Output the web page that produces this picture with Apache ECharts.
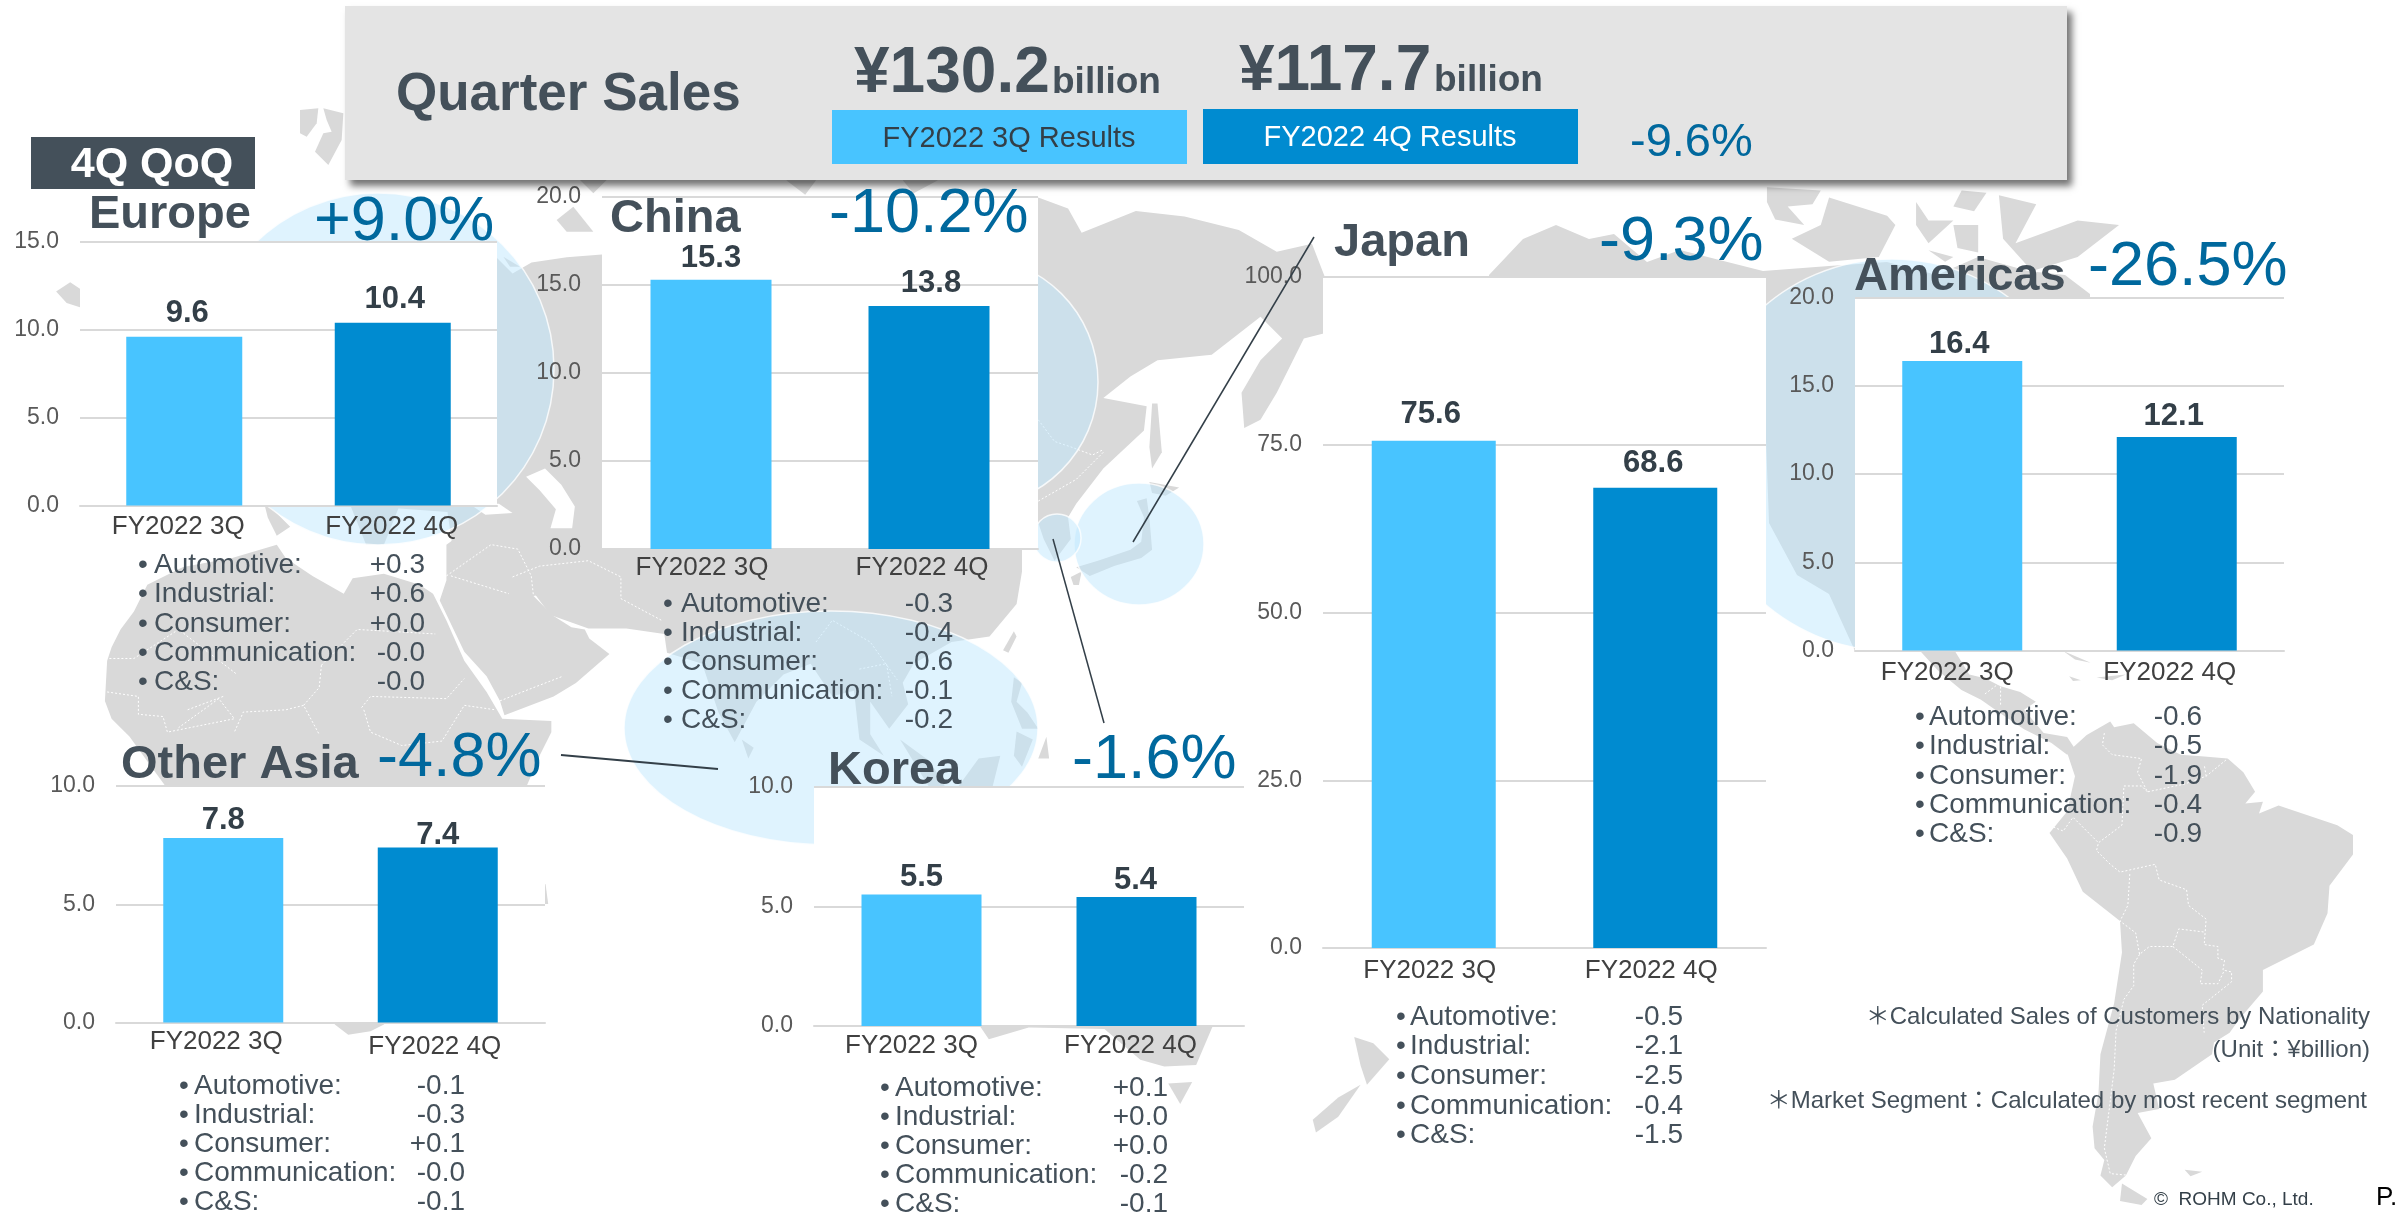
<!DOCTYPE html>
<html>
<head>
<meta charset="utf-8">
<title>Quarter Sales</title>
<script src="https://cdn.jsdelivr.net/npm/echarts@6/dist/echarts.min.js"></script>
<style>
html, body { margin: 0; padding: 0; background: #fff; }
#main { width: 2399px; height: 1214px; }
</style>
</head>
<body>
<div id="main"></div>
<script>
// chart data
var categories = ['FY2022 3Q', 'FY2022 4Q'];
var europeSales = [9.6, 10.4];
var chinaSales = [15.3, 13.8];
var japanSales = [75.6, 68.6];
var americasSales = [16.4, 12.1];
var otherAsiaSales = [7.8, 7.4];
var koreaSales = [5.5, 5.4];

var segmentNames = ['Automotive:', 'Industrial:', 'Consumer:', 'Communication:', 'C&S:'];
var europeSegments = ['+0.3', '+0.6', '+0.0', '-0.0', '-0.0'];
var chinaSegments = ['-0.3', '-0.4', '-0.6', '-0.1', '-0.2'];
var japanSegments = ['-0.5', '-2.1', '-2.5', '-0.4', '-1.5'];
var americasSegments = ['-0.6', '-0.5', '-1.9', '-0.4', '-0.9'];
var otherAsiaSegments = ['-0.1', '-0.3', '+0.1', '-0.0', '-0.1'];
var koreaSegments = ['+0.1', '+0.0', '+0.0', '-0.2', '-0.1'];

var LIGHT = '#48c4ff', DARK = '#008bd0', SLATE = '#44505a', PCT = '#00689d';
var FONT = '"Liberation Sans", Arial, "Noto Sans CJK JP", sans-serif';

// one entry per small chart: grid box, axis and where its texts go
var panels = [
  {name: 'Europe', pct: '+9.0%', sales: europeSales, seg: europeSegments, max: 15, step: 5,
    box: [80, 242, 417, 263.5], bar: 116, gaps: [8, 8], nudge: [3, 2], shift: [6, 1], margin: 8,
    title: [89, 215], pctAt: [314, 223], list: [138, 154, 425, 565, 29.4]},
  {name: 'China', pct: '-10.2%', sales: chinaSales, seg: chinaSegments, max: 20, step: 5,
    box: [602, 197, 436, 352], bar: 121, gaps: [6, 7], nudge: [0, 2], shift: [9, 7], margin: 6,
    title: [610, 219], pctAt: [829, 215], list: [663, 681, 953, 604, 29.1]},
  {name: 'Japan', pct: '-9.3%', sales: japanSales, seg: japanSegments, max: 100, step: 25,
    box: [1323, 277, 443, 671], bar: 124, gaps: [11, 9], nudge: [-3, -2], shift: [4, 4], margin: 10,
    title: [1334, 243], pctAt: [1599, 243], list: [1396, 1410, 1683, 1017, 29.6]},
  {name: 'Americas', pct: '-26.5%', sales: americasSales, seg: americasSegments, max: 20, step: 5,
    box: [1855, 297.5, 429, 353], bar: 120, gaps: [1, 5], nudge: [-3, -3], shift: [15, 7], margin: 9,
    title: [1854, 277], pctAt: [2088, 268], list: [1915, 1929, 2202, 717, 29.4]},
  {name: 'Other Asia', pct: '-4.8%', sales: otherAsiaSales, seg: otherAsiaSegments, max: 10, step: 5,
    box: [116, 786, 429, 236.5], bar: 120, gaps: [2, -3], nudge: [0, 0], shift: [7, 3], margin: 6, drop: 5,
    title: [121, 765], pctAt: [377, 759], list: [179, 194, 465, 1086, 29]},
  {name: 'Korea', pct: '-1.6%', sales: koreaSales, seg: koreaSegments, max: 10, step: 5,
    box: [814, 787, 430, 239], bar: 120, gaps: [2, 1], nudge: [0, -1], shift: [10, 6], margin: 7,
    title: [828, 771], pctAt: [1072, 761], list: [880, 895, 1168, 1088, 29]}
];

// background world map, traced by hand from crops of the slide
function traced(x, y, fx, fy, shapes) {
  return shapes.map(function (s) {
    return s.map(function (p) { return [x + p[0] / fx, y + p[1] / (fy || fx)]; });
  });
}
var landShapes = [].concat(
  traced(0, 500, 2.24, 0, [
    // africa
    [[250,330],[270,290],[300,250],[330,190],[410,150],[520,130],[620,100],[640,130],[700,170],[770,210],[790,175],[860,165],[940,190],[970,210],[1000,270],[1040,360],[1090,430],[1125,490],[1235,495],[1235,520],[1210,570],[1180,640],[1100,900],[860,1175],[830,1190],[780,1198],[750,1175],[650,800],[600,640],[370,640],[330,585],[290,530],[250,490],[235,450],[240,360]],
    // middle east
    [[1000,100],[1110,20],[1300,60],[1400,170],[1195,215],[1240,260],[1280,285],[1310,290],[1320,310],[1365,345],[1290,410],[1240,440],[1130,482],[1120,450],[1090,395],[1040,340],[985,225],[1000,180]],
    [[1222,860],[1228,905],[1150,905]],
    // italy and balkans poking out under the europe panel
    [[590,0],[650,60],[620,80],[600,40]],
    [[780,0],[900,0],[860,100],[820,100],[800,50]],
    [[1120,0],[1400,0],[1400,100],[1200,100],[1130,40]]
  ]),
  traced(480, 100, 1.845, 0, [
    // eurasia
    [[-200,300],[30,290],[60,320],[95,300],[160,290],[225,285],[300,300],[1000,300],[1030,180],[1085,200],[1110,245],[1210,205],[1300,215],[1400,240],[1470,280],[1535,265],[1560,330],[1560,430],[1520,440],[1500,480],[1470,540],[1440,590],[1410,605],[1405,540],[1440,480],[1480,440],[1440,400],[1350,470],[1250,480],[1200,510],[1150,550],[1230,565],[1225,610],[1150,680],[1100,745],[1085,770],[1090,810],[1060,850],[1040,810],[1030,780],[1000,800],[1000,870],[990,930],[940,990],[870,1000],[800,1040],[780,1075],[790,1115],[755,1160],[720,1110],[720,1170],[745,1210],[700,1180],[690,1090],[650,1100],[610,1040],[560,1060],[510,1110],[470,1185],[440,1130],[410,1040],[345,1020],[340,985],[270,975],[200,975],[130,950],[100,910],[60,870],[20,840],[-10,830],[-50,830],[-60,760],[-200,750]],
    [[565,148],[620,148],[600,175]],
    [[780,148],[845,148],[800,172]],
    [[1240,560],[1250,560],[1258,650],[1240,680],[1235,640]],
    [[1100,862],[1140,850],[1200,830],[1220,815],[1225,770],[1212,740],[1230,735],[1235,770],[1240,830],[1220,845],[1170,860],[1125,878]],
    [[1235,705],[1290,715],[1265,730],[1240,725]],
    [[1090,880],[1110,870],[1105,895],[1095,895]],
    [[965,1015],[985,980],[990,990],[975,1020]],
    [[985,1065],[1000,1075],[990,1110],[1010,1130],[1030,1160],[1000,1160],[980,1110]],
    [[880,1270],[920,1215],[960,1210],[945,1270]],
    [[775,1180],[830,1220],[860,1270],[830,1270]],
    [[990,1165],[1020,1180],[1000,1230],[985,1210]],
    [[1030,1215],[1045,1175],[1050,1215]],
    [[483,1180],[505,1195],[495,1215]]
  ]),
  traced(300, 90, 3, 0, [
    [[0,60],[55,55],[50,100],[20,140],[0,130]],
    [[70,55],[130,70],[125,150],[85,225],[45,185],[70,130],[95,125],[80,90]],
    [[770,390],[820,350],[880,425],[800,425]],
    [[840,270],[920,270],[880,310]],
    [[610,500],[660,530],[630,530]]
  ]),
  traced(0, 0, 1.425, 2.178, [
    [[80,635],[100,615],[115,630],[115,670],[95,660]]
  ]),
  traced(1100, 0, 1.207, 2.178, [
    // canadian islands
    [[805,408],[870,415],[860,445],[830,450],[850,490],[815,478],[805,440]],
    [[880,430],[950,470],[960,490],[940,560],[880,570],[835,520],[870,490]],
    [[985,440],[1000,480],[1030,480],[1000,530],[985,490]],
    [[1040,415],[1070,420],[1055,460],[1030,450]],
    [[1030,490],[1060,490],[1060,550],[1035,540]],
    [[1085,425],[1130,445],[1105,530],[1180,480],[1230,490],[1180,560],[1125,590],[1090,520]],
    [[1000,545],[1030,560],[1020,570]]
  ]),
  [
    // north america, mostly hidden by the panels
    [[1489,275],[1506,257],[1523,239],[1556,225],[1589,239],[1614,234],[1647,262],[1680,250],[1763,271],[1829,266],[1887,262],[1937,275],[1978,257],[2028,271],[2065,275],[2090,294],[2090,400],[1950,640],[1855,651],[1829,594],[1797,575],[1769,523],[1766,441],[1600,300],[1489,300]]
  ],
  traced(1750, 600, 2.554, 0, [
    // mexico and central america
    [[430,125],[520,125],[560,190],[600,200],[640,220],[690,235],[730,260],[700,280],[750,340],[810,350],[830,380],[810,395],[770,365],[700,330],[640,290],[590,255],[540,230],[480,180]],
    [[800,130],[870,160],[830,152]],
    [[885,198],[960,190],[925,205]],
    [[815,195],[845,205],[825,207]],
    // south america
    [[810,390],[860,345],[920,310],[930,325],[980,315],[1040,365],[1100,395],[1160,400],[1220,405],[1260,440],[1290,490],[1265,520],[1310,515],[1300,545],[1350,525],[1500,575],[1540,600],[1540,650],[1480,730],[1475,800],[1440,880],[1310,945],[1310,1000],[1250,1070],[1225,1105],[1185,1130],[1180,1160],[1085,1225],[1030,1235],[1045,1300],[990,1310],[1025,1375],[985,1420],[960,1470],[925,1500],[895,1470],[905,1430],[880,1400],[875,1345],[890,1260],[895,1160],[930,1030],[950,900],[945,820],[850,745],[810,660],[765,595],[810,540],[830,450]],
    [[950,1490],[1015,1530],[1000,1545],[945,1535]],
    [[1110,1455],[1155,1460],[1125,1472]]
  ]),
  traced(1300, 160, 1.568, 0, [
    // new zealand
    [[85,1375],[115,1385],[140,1410],[105,1450],[95,1420]],
    [[95,1450],[60,1500],[25,1525],[20,1505],[60,1470]]
  ]),
  traced(0, 680, 1.254, 2.936, [
    // australia, only the rim shows under the korea panel
    [[1180,900],[1560,900],[1520,1020],[1500,1130],[1460,1135],[1430,1115],[1385,1025],[1290,1020],[1240,1055],[1230,1020]],
    [[1465,1185],[1495,1180],[1480,1245]]
  ])
);
var borderLines = [].concat(
  traced(1750, 600, 2.554, 0, [
    [[905,340],[900,370],[925,395],[1000,405],[990,440],[1015,490],[1110,470],[1165,450],[1220,405]],
    [[1165,450],[1160,420]],
    [[1015,490],[1000,475],[955,475],[950,575],[890,620],[885,640],[920,675],[945,695],[1035,675],[1045,715],[1115,740],[1120,780],[1165,815],[1160,880],[1195,885],[1195,915],[1212,920],[1208,945],[1230,950],[1230,975],[1155,1035],[1160,1105]],
    [[970,700],[965,780],[945,820],[985,850],[995,905],[1020,885],[1080,885],[1095,840],[1160,848]],
    [[995,905],[980,930],[980,985],[955,1020],[935,1100],[930,1200],[905,1400],[920,1465],[975,1470]],
    [[1080,885],[1155,945],[1150,980],[1195,980],[1212,945]],
    [[775,580],[800,590],[825,555],[890,620]],
    [[600,240],[640,210],[640,270]]
  ]),
  traced(0, 500, 2.24, 0, [
    [[240,430],[310,440],[310,480],[365,485],[375,520],[450,505],[525,490],[490,445],[400,510]],
    [[245,355],[300,355],[400,290],[530,390]],
    [[500,440],[420,470]],
    [[680,460],[640,470],[545,475],[525,520]],
    [[720,370],[715,420],[680,460],[715,525]],
    [[810,465],[830,440],[1000,445],[1040,400]],
    [[815,470],[830,520],[900,550],[990,540],[1040,460],[1110,470]],
    [[720,370],[800,290],[975,300]],
    [[1120,450],[1170,430],[1260,395]],
    [[1000,170],[1100,100],[1160,110],[1190,170],[1195,215]],
    [[1010,170],[1140,210]]
  ]),
  traced(480, 100, 1.845, 0, [
    [[60,880],[110,860],[200,850],[260,880],[260,920],[335,960]],
    [[1030,590],[1060,630],[1090,640],[1130,655],[1150,645]],
    [[1030,740],[1100,700],[1150,650]],
    [[620,1000],[650,960],[720,1000],[770,1070]],
    [[700,1050],[750,1040],[760,1100]]
  ])
);

// pale highlight circles over the map: cx, cy, rx, ry
var circles = [
  [378, 369, 176, 176],
  [973, 382, 125, 125],
  [1139, 544, 65, 61],
  [1057, 538, 24, 24],
  [831, 728, 207, 117],
  [1892, 455, 196, 196]
];

var grids = [], xAxes = [], yAxes = [], series = [];
var extras = [];

function addText(text, x, y, size, color, weight, align) {
  extras.push({
    type: 'text', z: 20, silent: true,
    style: {
      text: text, x: x, y: y, fill: color, align: align || 'left', verticalAlign: 'middle',
      font: (weight || 'normal') + ' ' + size + 'px ' + FONT
    }
  });
}

panels.forEach(function (p, i) {
  grids.push({
    left: p.box[0], top: p.box[1], width: p.box[2], height: p.box[3],
    show: true, backgroundColor: '#fff', borderWidth: 0
  });
  xAxes.push({
    type: 'category', gridIndex: i,
    data: categories.map(function (c, k) {
      // labels in the slide sit a little left of their bars
      return {value: c, textStyle: {padding: [k == 1 ? (p.drop || 0) : 0, p.shift[k] * 2, 0, 0]}};
    }),
    axisTick: {show: false},
    axisLine: {lineStyle: {color: '#d9d9d9', width: 2}},
    axisLabel: {color: '#404040', fontSize: 26, fontFamily: FONT, margin: p.margin, interval: 0}
  });
  yAxes.push({
    type: 'value', gridIndex: i, min: 0, max: p.max, interval: p.step,
    axisLine: {show: false}, axisTick: {show: false},
    splitLine: {lineStyle: {color: '#d9d9d9', width: 2}},
    axisLabel: {
      color: '#595959', fontSize: 23, fontFamily: FONT, margin: 21, padding: [4, 0, 0, 0],
      formatter: function (v) { return v.toFixed(1); }
    }
  });
  series.push({
    type: 'bar', xAxisIndex: i, yAxisIndex: i, barWidth: p.bar, z: 3,
    data: p.sales.map(function (v, k) {
      return {
        value: v,
        itemStyle: {color: k == 0 ? LIGHT : DARK},
        label: {distance: p.gaps[k], offset: [p.nudge[k], 0]}
      };
    }),
    label: {
      show: true, position: 'top', color: '#333f48', fontSize: 31, fontWeight: 'bold', fontFamily: FONT,
      formatter: function (d) { return d.value.toFixed(1); }
    }
  });
  addText(p.name, p.title[0], p.title[1], 47, SLATE, 'bold');
  addText(p.pct, p.pctAt[0], p.pctAt[1], 63, PCT);
  segmentNames.forEach(function (s, k) {
    var y = p.list[3] + k * p.list[4];
    addText('•', p.list[0], y, 28, SLATE);
    addText(s, p.list[1], y, 28, SLATE);
    addText(p.seg[k], p.list[2], y, 28, SLATE, 'normal', 'right');
  });
});

// header strip
var header = [
  {type: 'rect', z: 10, silent: true, shape: {x: 345, y: 6, width: 1722, height: 174},
    style: {fill: '#e4e4e4', shadowBlur: 7, shadowOffsetX: 5, shadowOffsetY: 6, shadowColor: 'rgba(0,0,0,0.55)'}},
  {type: 'rect', z: 11, silent: true, shape: {x: 832, y: 110, width: 355, height: 54}, style: {fill: LIGHT}},
  {type: 'rect', z: 11, silent: true, shape: {x: 1203, y: 109, width: 375, height: 55}, style: {fill: DARK}},
  {type: 'rect', z: 11, silent: true, shape: {x: 31, y: 137, width: 224, height: 52}, style: {fill: SLATE}}
];
addText('Quarter Sales', 396, 95, 53, SLATE, 'bold');
addText('¥130.2', 854, 74, 64, SLATE, 'bold');
addText('billion', 1052, 83, 37, SLATE, 'bold');
addText('¥117.7', 1239, 72, 64, SLATE, 'bold');
addText('billion', 1434, 81, 37, SLATE, 'bold');
addText('FY2022 3Q Results', 1009, 139, 29, '#333f48', 'normal', 'center');
addText('FY2022 4Q Results', 1390, 138, 29, '#fff', 'normal', 'center');
addText('-9.6%', 1630, 143, 47, PCT);
addText('4Q QoQ', 152, 165, 43, '#fff', 'bold', 'center');
addText('＊Calculated Sales of Customers by Nationality', 2370, 1017, 24, SLATE, 'normal', 'right');
addText('(Unit：¥billion)', 2370, 1050, 24, SLATE, 'normal', 'right');
addText('＊Market Segment：Calculated by most recent segment', 2367, 1101, 24, SLATE, 'normal', 'right');
addText('©  ROHM Co., Ltd.', 2154, 1200, 19, '#333f48');
addText('P.', 2376, 1198, 26, '#000');

var leaders = [
  [[1314, 237], [1133, 542], 1.5],
  [[1053, 539], [1104, 723], 1.5],
  [[561, 755], [718, 769], 2]
].map(function (l) {
  return {
    type: 'line', z: 20, silent: true,
    shape: {x1: l[0][0], y1: l[0][1], x2: l[1][0], y2: l[1][1]},
    style: {stroke: '#333f48', lineWidth: l[2]}
  };
});

var mapEls = landShapes.map(function (pts) {
  return {type: 'polygon', z: -10, silent: true, shape: {points: pts}, style: {fill: '#d9d9d9'}};
}).concat([
  // caspian and black sea
  {type: 'polygon', z: -9, silent: true, shape: {points: traced(480, 100, 1.845, 0, [[[85,695],[120,680],[150,710],[175,750],[170,790],[130,790],[140,755],[110,720]]])[0]}, style: {fill: '#fff'}},
  {type: 'polygon', z: -9, silent: true, shape: {points: traced(480, 100, 1.845, 0, [[[-20,745],[35,745],[60,762],[10,765]]])[0]}, style: {fill: '#fff'}}
]).concat(borderLines.map(function (pts) {
  return {type: 'polyline', z: -8, silent: true, shape: {points: pts}, style: {stroke: '#fff', lineWidth: 1, lineDash: [2, 2], fill: null}};
})).concat(circles.map(function (c) {
  return {type: 'ellipse', z: -7, silent: true, shape: {cx: c[0], cy: c[1], rx: c[2], ry: c[3]},
    style: {fill: 'rgba(191,231,253,0.5)', stroke: 'rgba(255,255,255,0.8)', lineWidth: 1.5}};
}));

var chart = echarts.init(document.getElementById('main'));
chart.setOption({
  animation: false,
  backgroundColor: '#fff',
  textStyle: {fontFamily: FONT},
  grid: grids,
  xAxis: xAxes,
  yAxis: yAxes,
  series: series,
  graphic: {elements: mapEls.concat(header, leaders, extras)}
});
</script>
</body>
</html>
